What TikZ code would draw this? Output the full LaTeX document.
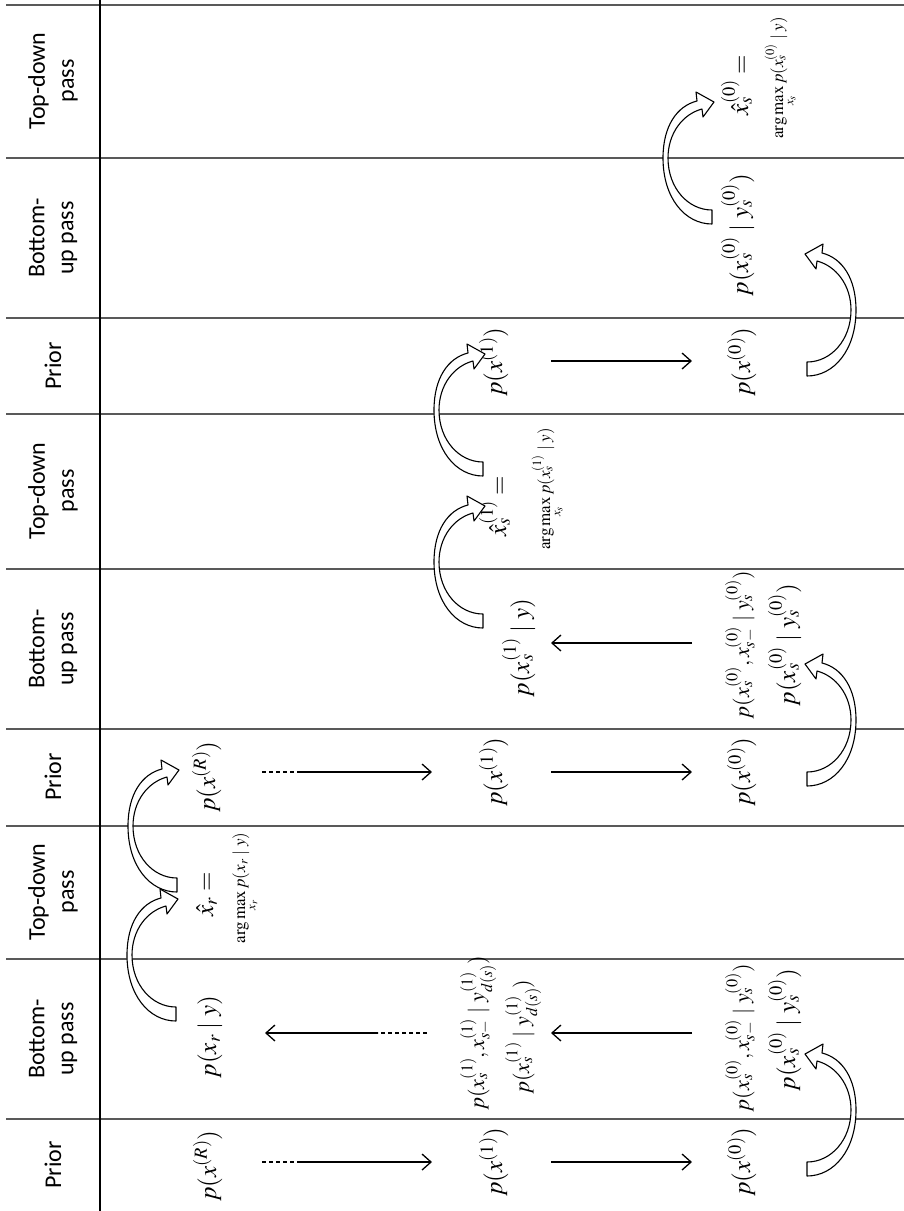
\documentclass[tikz,border=0pt]{standalone}
\usepackage{mathptmx}
\usepackage[no-math]{fontspec}
\setmainfont{Liberation Serif}
\newfontfamily\labfont{Carlito}
\usetikzlibrary{arrows.meta}
\tikzset{
  carrowline/.style={line width=1.1pt, draw=black, fill=white, line join=round},
  carrow/.pic={
    \path[carrowline] (49,66) .. controls (22,66) and (0,40) .. (0,0)
      .. controls (0,-32) and (14,-52) .. (34,-57)
      -- (33,-66) -- (51,-56) -- (40,-41) -- (39,-49)
      .. controls (20,-44) and (5,-25) .. (5,0)
      .. controls (5,30) and (25,52) .. (49,52) -- cycle;
  }
}
\begin{document}
\begin{tikzpicture}[x=1pt,y=-1pt,
  hgrid/.style={line width=1.8pt, draw=black!65},
  vgrid/.style={line width=1.3pt, draw=black},
  lab/.style={rotate=90, align=center, font=\labfont\fontsize{24}{29}\selectfont, inner sep=0pt},
  mx/.style={rotate=90, anchor=base, inner sep=0pt, font=\fontsize{25}{30}\selectfont},
  mxl/.style={mx, font=\fontsize{22}{26}\selectfont},
  sm/.style={rotate=90, anchor=base, inner sep=0pt, font=\fontsize{17}{20}\selectfont},
  arr/.style={line width=1.3pt, -{Straight Barb[length=9pt,width=16pt,line width=1.3pt]}},
  dashseg/.style={line width=1.3pt, dash pattern=on 4pt off 3pt},
]
\useasboundingbox (0,0) rectangle (904,1211);
% table
\foreach \yy in {5,158,318,414,569,729,826,959,1119}
  \draw[hgrid] (6,\yy) -- (904,\yy);
\draw[vgrid] (100,0) -- (100,1211);

% row labels
\node[lab] (L1) at (53,81) {Top-down\\pass};
\node[lab] (L2) at (53,238) {Bottom-\\up pass};
\node[lab] (L3) at (53,366) {Prior};
\node[lab] (L4) at (53,491) {Top-down\\pass};
\node[lab] (L5) at (53,649) {Bottom-\\up pass};
\node[lab] (L6) at (53,777) {Prior};
\node[lab] (L7) at (53,892) {Top-down\\pass};
\node[lab] (L8) at (53,1039) {Bottom-\\up pass};
\node[lab] (L9) at (53,1165) {Prior};

% band 9 (prior)
\node[mx] (pR9) at (216,1166) {$p(x^{(R)})$};
\node[mx] (p19) at (502,1162) {$p(x^{(1)})$};
\node[mx] (p09) at (750,1162) {$p(x^{(0)})$};
% band 8 (bottom-up)
\node[mx] (pr8) at (216,1037) {$p(x_r \mid y)$};
\node[mxl] (q18a) at (484,1033) {$p(x_s^{(1)}, x_{s-}^{(1)} \mid y_{d(s)}^{(1)})$};
\node[mxl] (q18b) at (529,1037) {$p(x_s^{(1)} \mid y_{d(s)}^{(1)})$};
\node[mxl] (q08a) at (749,1038) {$p(x_s^{(0)}, x_{s-}^{(0)} \mid y_s^{(0)})$};
\node[mx] (q08b) at (795,1030) {$p(x_s^{(0)} \mid y_s^{(0)})$};
% band 7 (top-down)
\node[mx] (h7) at (213,894) {$\hat{x}_r =$};
\node[sm] (m7) at (245,888) {$\displaystyle\arg\max_{x_r} p(x_r \mid y)$};
% band 6 (prior)
\node[mx] (pR6) at (215,777) {$p(x^{(R)})$};
\node[mx] (p16) at (502,772) {$p(x^{(1)})$};
\node[mx] (p06) at (750,772) {$p(x^{(0)})$};
% band 5 (bottom-up)
\node[mx] (q15) at (529,648) {$p(x_s^{(1)} \mid y)$};
\node[mxl] (q05a) at (749,645) {$p(x_s^{(0)}, x_{s-}^{(0)} \mid y_s^{(0)})$};
\node[mx] (q05b) at (795,645) {$p(x_s^{(0)} \mid y_s^{(0)})$};
% band 4 (top-down)
\node[mx] (h4) at (506,506) {$\hat{x}_s^{(1)} =$};
\node[sm] (m4) at (550,489) {$\displaystyle\arg\max_{x_s} p(x_s^{(1)} \mid y)$};
% band 3 (prior)
\node[mx] (p13) at (502,362) {$p(x^{(1)})$};
\node[mx] (p03) at (750,362) {$p(x^{(0)})$};
% band 2 (bottom-up)
\node[mx] (q02) at (748,235) {$p(x_s^{(0)} \mid y_s^{(0)})$};
% band 1 (top-down)
\node[mx] (h1) at (748,85) {$\hat{x}_s^{(0)} =$};
\node[sm] (m1) at (783,78) {$\displaystyle\arg\max_{x_s} p(x_s^{(0)} \mid y)$};

% straight arrows
\coordinate (d9a) at (262,1162); \coordinate (d9b) at (300,1162); \coordinate (e9) at (432,1162);
\coordinate (s9) at (551,1162); \coordinate (t9) at (692,1162);
\draw[dashseg] (d9a) -- (d9b); \draw[arr] (d9b) -- (e9); \draw[arr] (s9) -- (t9);
\coordinate (d6a) at (262,772); \coordinate (d6b) at (300,772); \coordinate (e6) at (432,772);
\coordinate (s6) at (551,772); \coordinate (t6) at (692,772);
\draw[dashseg] (d6a) -- (d6b); \draw[arr] (d6b) -- (e6); \draw[arr] (s6) -- (t6);
\coordinate (s3) at (551,361); \coordinate (t3) at (692,361);
\draw[arr] (s3) -- (t3);
\coordinate (d8a) at (427,1033); \coordinate (d8b) at (378,1033); \coordinate (e8) at (265,1033);
\coordinate (s8) at (692,1033); \coordinate (t8) at (551,1033);
\draw[dashseg] (d8a) -- (d8b); \draw[arr] (d8b) -- (e8); \draw[arr] (s8) -- (t8);
\coordinate (s5) at (692,643); \coordinate (t5) at (551,643);
\draw[arr] (s5) -- (t5);

% curved block arrows
\pic at (127,955) {carrow};
\pic at (128,826) {carrow};
\pic at (434,562) {carrow};
\pic at (434,410) {carrow};
\pic at (663,158) {carrow};
\pic[xscale=-1] at (856,1110) {carrow};
\pic[xscale=-1] at (856,720) {carrow};
\pic[xscale=-1] at (856,310) {carrow};
\end{tikzpicture}
\end{document}
